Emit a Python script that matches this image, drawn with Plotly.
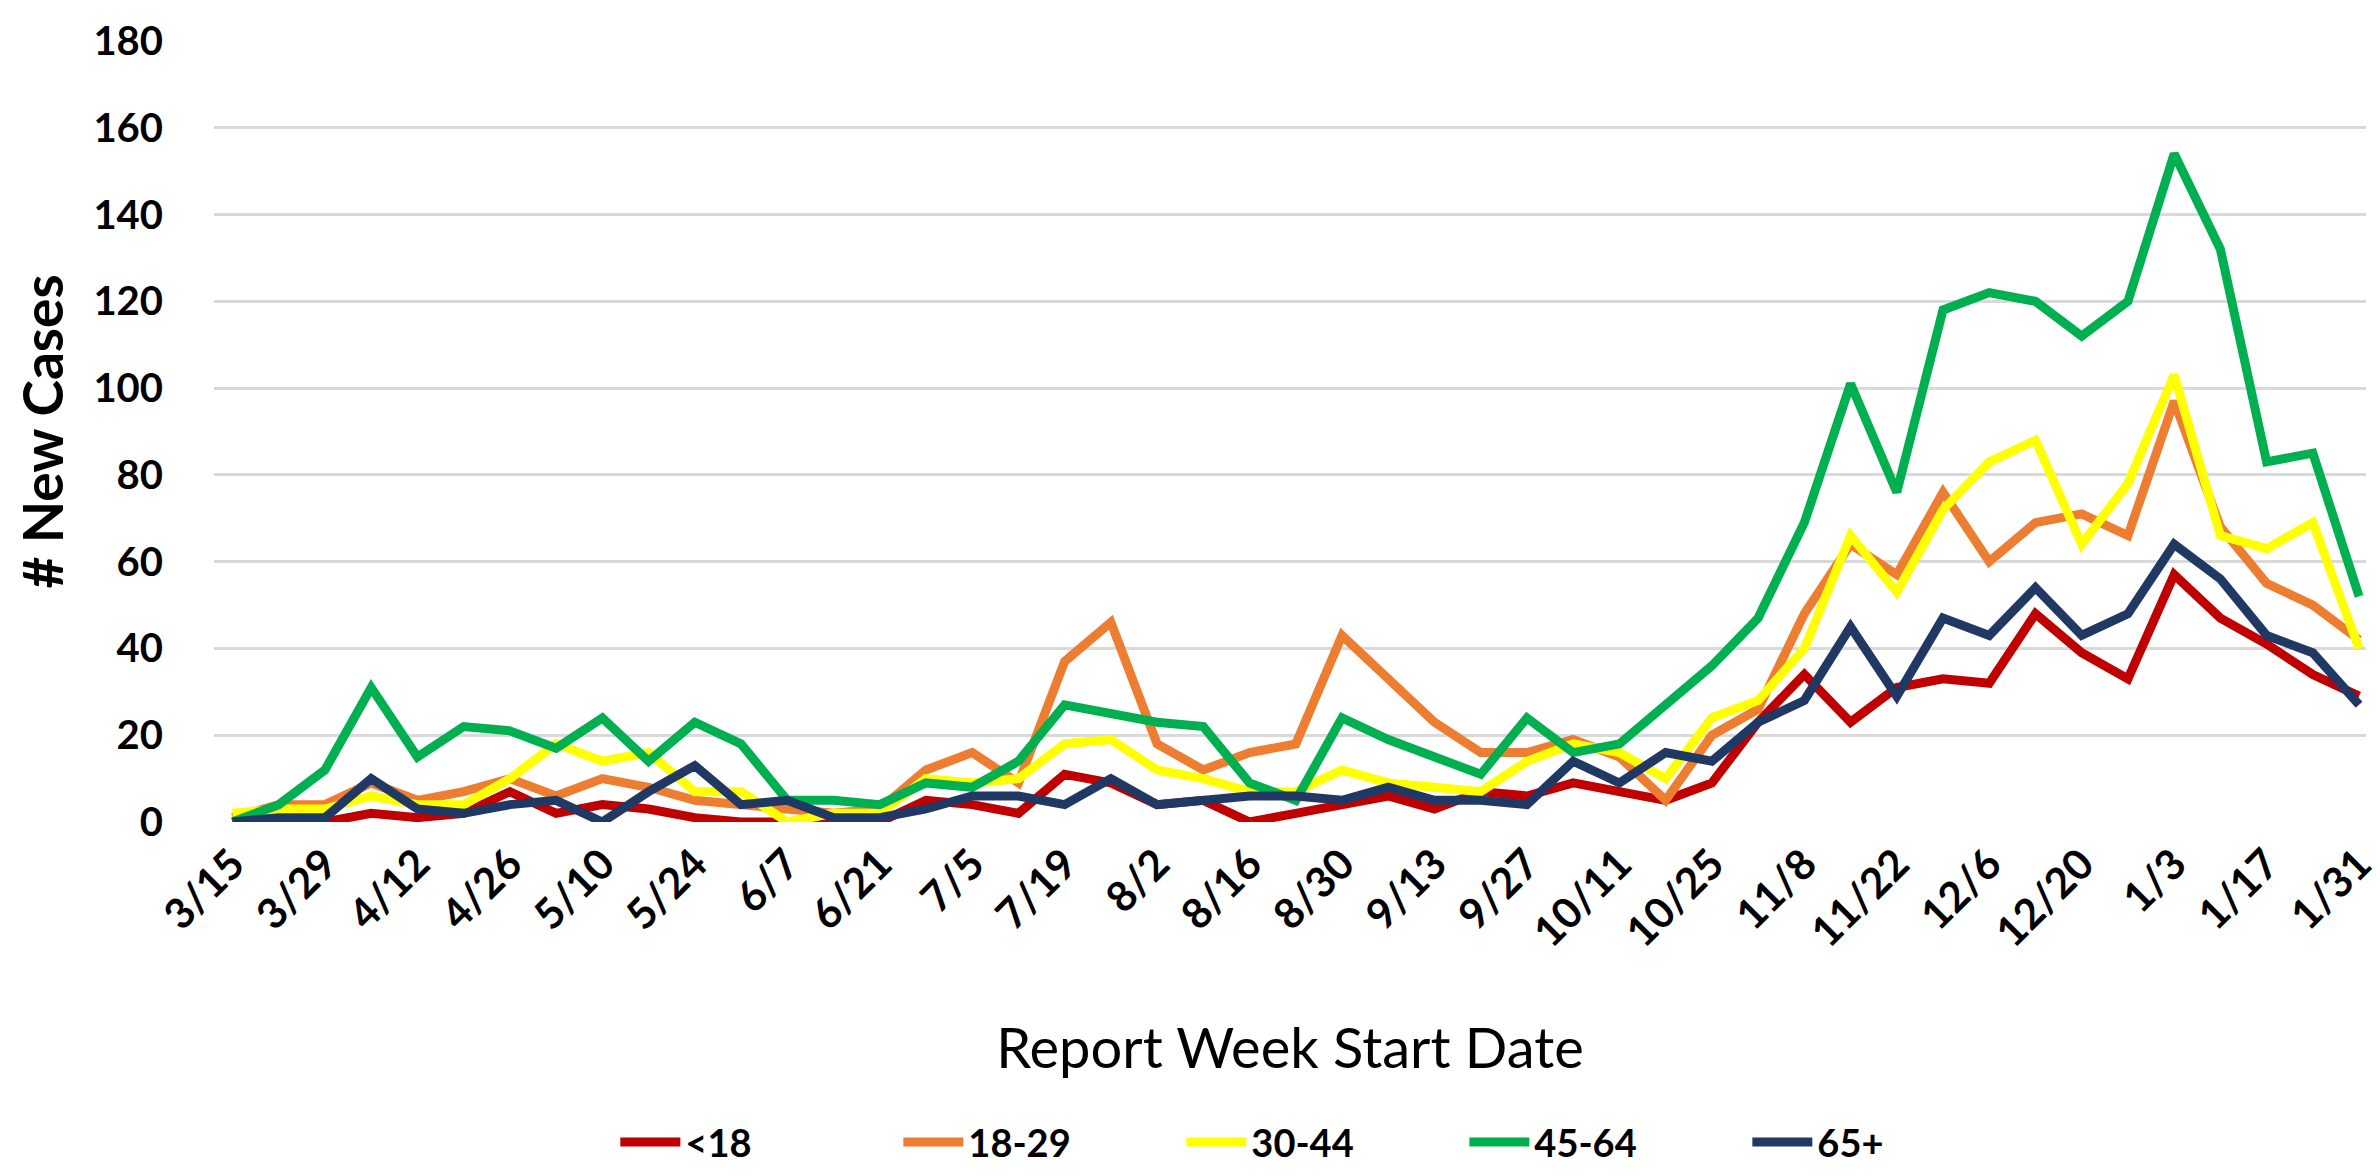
import plotly.graph_objects as go

weeks = ["3/15", "3/22", "3/29", "4/5", "4/12", "4/19", "4/26", "5/3", "5/10", "5/17",
         "5/24", "5/31", "6/7", "6/14", "6/21", "6/28", "7/5", "7/12", "7/19", "7/26",
         "8/2", "8/9", "8/16", "8/23", "8/30", "9/6", "9/13", "9/20", "9/27", "10/4",
         "10/11", "10/18", "10/25", "11/1", "11/8", "11/15", "11/22", "11/29", "12/6", "12/13",
         "12/20", "12/27", "1/3", "1/10", "1/17", "1/24", "1/31"]

tick_labels = ["3/15", "3/29", "4/12", "4/26", "5/10", "5/24", "6/7", "6/21", "7/5", "7/19",
               "8/2", "8/16", "8/30", "9/13", "9/27", "10/11", "10/25", "11/8", "11/22", "12/6",
               "12/20", "1/3", "1/17", "1/31"]

under_18 = [0, 0, 0, 2, 1, 2, 7, 2, 4, 3, 1, 0, 0, 1, 0, 5, 4, 2, 11, 9, 4, 5, 0, 2, 4, 6, 3, 7,
            6, 9, 7, 5, 9, 23, 34, 23, 31, 33, 32, 48, 39, 33, 57, 47, 41, 34, 29]
age_18_29 = [1, 4, 4, 9, 5, 7, 10, 6, 10, 8, 5, 4, 3, 2, 3, 12, 16, 9, 37, 46, 18, 12, 16, 18,
             43, 33, 23, 16, 16, 19, 15, 5, 20, 26, 48, 64, 57, 76, 60, 69, 71, 66, 97, 68, 55, 50, 42]
age_30_44 = [2, 3, 3, 6, 4, 4, 10, 18, 14, 16, 7, 7, 0, 2, 2, 10, 9, 10, 18, 19, 12, 10, 7, 7,
             12, 9, 8, 7, 14, 18, 16, 10, 24, 28, 40, 66, 53, 72, 83, 88, 64, 78, 103, 66, 63, 69, 40]
age_45_64 = [0, 4, 12, 31, 15, 22, 21, 17, 24, 14, 23, 18, 5, 5, 4, 9, 8, 14, 27, 25, 23, 22, 9, 5,
             24, 19, 15, 11, 24, 16, 18, 27, 36, 47, 69, 101, 76, 118, 122, 120, 112, 120, 154, 132, 83, 85, 52]
age_65_plus = [0, 1, 1, 10, 3, 2, 4, 5, 0, 7, 13, 4, 5, 1, 1, 3, 6, 6, 4, 10, 4, 5, 6, 6, 5, 8, 5, 5,
               4, 14, 9, 16, 14, 23, 28, 45, 29, 47, 43, 54, 43, 48, 64, 56, 43, 39, 27]

series_names = ["<18", "18-29", "30-44", "45-64", "65+"]
series_values = [under_18, age_18_29, age_30_44, age_45_64, age_65_plus]
series_colors = ["#C00000", "#ED7D31", "#FFFF00", "#00B050", "#203864"]

FONT = "Lato"

fig = go.Figure()
for name, vals, col in zip(series_names, series_values, series_colors):
    fig.add_trace(go.Scatter(x=weeks, y=vals, name=name, mode="lines",
                             line=dict(color=col, width=9)))

fig.update_layout(
    width=2380, height=1176, autosize=False,
    paper_bgcolor="white", plot_bgcolor="white",
    margin=dict(l=206, r=8, t=26, b=362),
    font=dict(family=FONT, color="black"),
    showlegend=True,
    legend=dict(orientation="h", x=0.1865, xanchor="left", y=-0.41, yanchor="middle",
                font=dict(family=FONT, size=38, color="black", weight="bold"),
                entrywidth=208, entrywidthmode="pixels", itemwidth=60,
                bgcolor="rgba(0,0,0,0)"),
)

fig.update_xaxes(
    type="category", range=[-0.4, 46.15],
    tickmode="array", tickvals=tick_labels, ticktext=tick_labels,
    tickangle=-45, tickfont=dict(family=FONT, size=42, color="black", weight="bold"),
    ticklabelstandoff=8,
    showgrid=False, zeroline=False, showline=False, ticks="",
    title=dict(text="Report Week Start Date", standoff=73,
               font=dict(family=FONT, size=56, color="black")),
)
fig.update_yaxes(
    range=[0, 180], tickmode="linear", tick0=0, dtick=20,
    tickfont=dict(family=FONT, size=40, color="black", weight="bold"),
    showgrid=True, gridcolor="#D9D9D9", gridwidth=3,
    zeroline=False, showline=False, ticks="", ticklabelstandoff=50,
    title=dict(text="# New Cases", standoff=12,
               font=dict(family=FONT, size=55, color="black", weight="bold")),
)

fig.write_html("out.html")
